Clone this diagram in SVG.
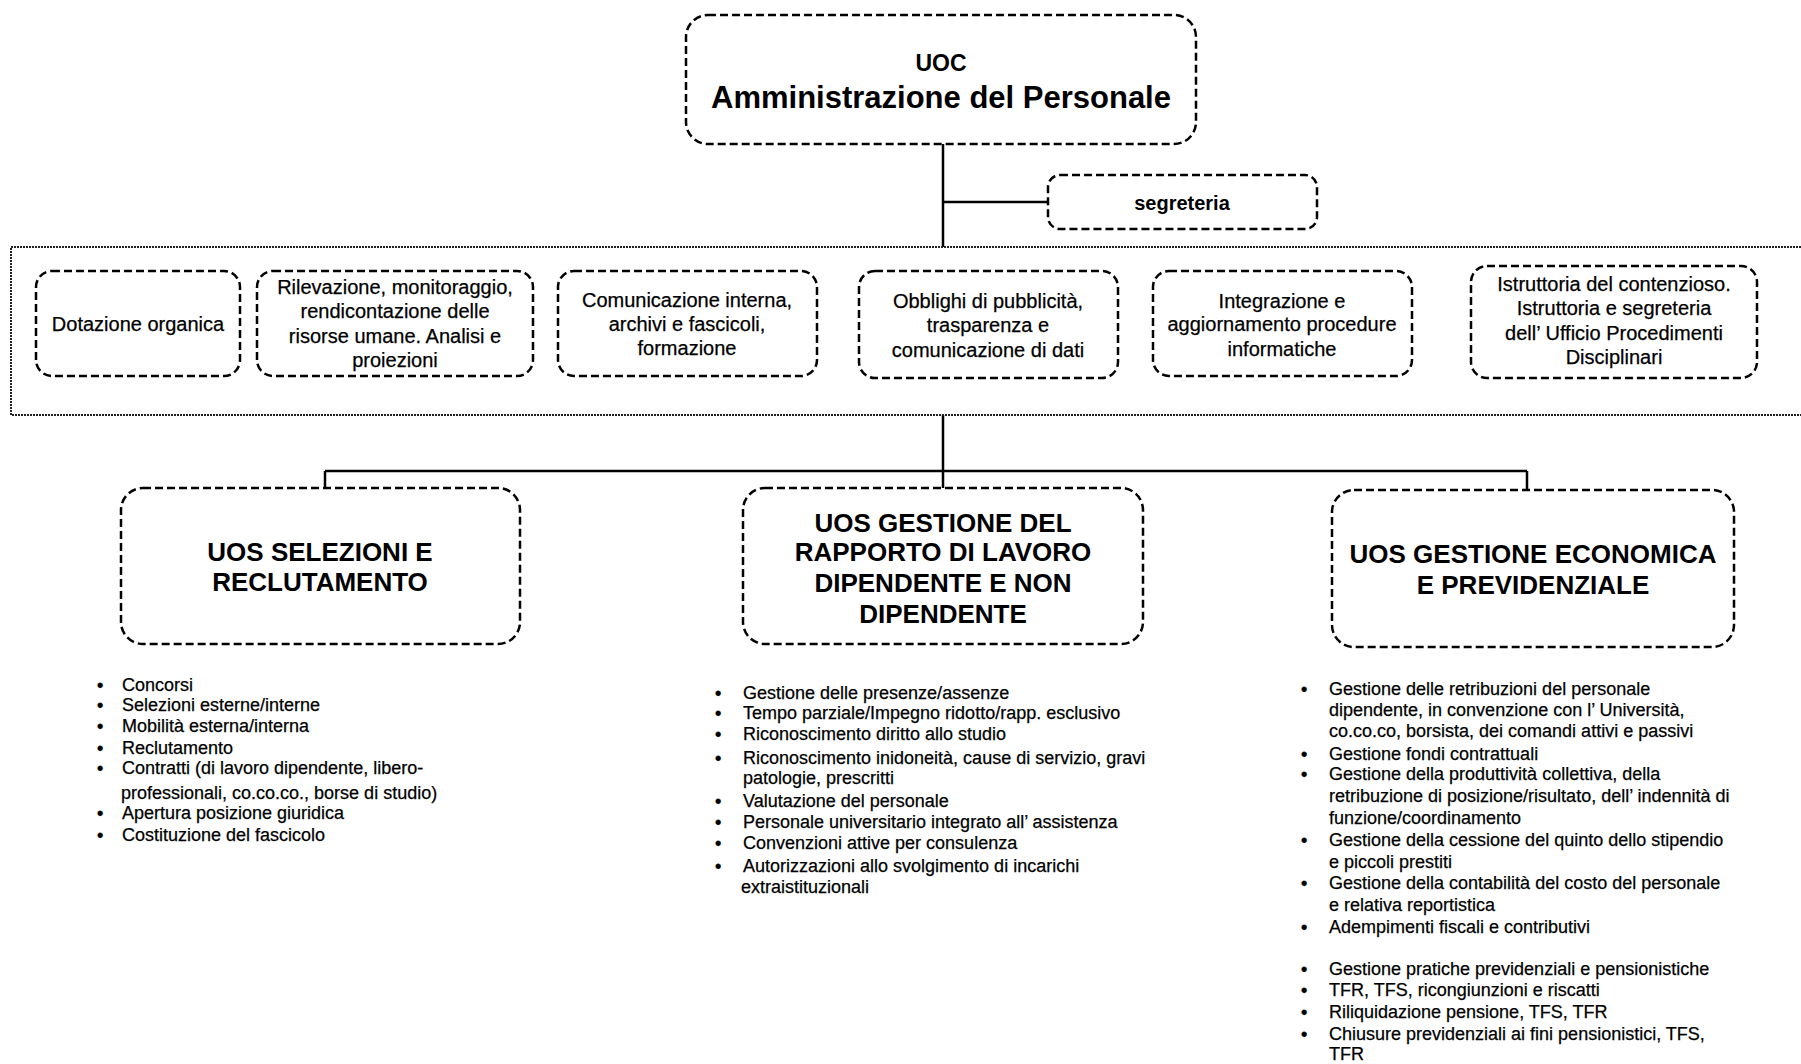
<svg xmlns="http://www.w3.org/2000/svg" width="1801" height="1064" viewBox="0 0 1801 1064">
<style>
.box{fill:#fff;stroke:#000;stroke-width:2.5;stroke-dasharray:8 4}
.band{fill:none;stroke:#222;stroke-width:2;stroke-dasharray:2 1}
.conn{fill:none;stroke:#000;stroke-width:2.5}
.t{font-family:"Liberation Sans",Arial,sans-serif;fill:#000}
.bt{font-size:20px;text-anchor:middle;stroke:#000;stroke-width:0.25}
.hd{font-size:26px;font-weight:bold;text-anchor:middle}
.li{font-size:18px;stroke:#000;stroke-width:0.25}
.bu{font-weight:bold}
</style>
<rect width="1801" height="1064" fill="#fff"/>
<g id="connectors">
<path class="conn" d="M943 144V247"/>
<path class="conn" d="M943 202H1048"/>
<path class="conn" d="M943 415V488"/>
<path class="conn" d="M325 471H1527"/>
<path class="conn" d="M325 471V488"/>
<path class="conn" d="M1527 471V490"/>
</g>
<rect class="band" x="11" y="247" width="1800" height="168"/>
<g id="uoc">
<rect class="box" x="686" y="15" width="510" height="129" rx="22"/>
<text class="t" x="941" y="71" font-size="23" font-weight="bold" text-anchor="middle">UOC</text>
<text class="t" x="941" y="108" font-size="31" font-weight="bold" text-anchor="middle">Amministrazione del Personale</text>
</g>
<g id="segreteria">
<rect class="box" x="1048" y="175" width="269" height="54" rx="12"/>
<text class="t" x="1182" y="210" font-size="20" font-weight="bold" text-anchor="middle">segreteria</text>
</g>
<g id="dotazione">
<rect class="box" x="36" y="271" width="204" height="105" rx="16"/>
<text class="t bt" x="138" y="331">Dotazione organica</text>
</g>
<g id="rilevazione">
<rect class="box" x="257" y="271" width="276" height="105" rx="16"/>
<text class="t bt" x="395" y="294">Rilevazione, monitoraggio,</text>
<text class="t bt" x="395" y="318">rendicontazione delle</text>
<text class="t bt" x="395" y="343">risorse umane. Analisi e</text>
<text class="t bt" x="395" y="367">proiezioni</text>
</g>
<g id="comunicazione">
<rect class="box" x="558" y="271" width="259" height="105" rx="16"/>
<text class="t bt" x="687" y="307">Comunicazione interna,</text>
<text class="t bt" x="687" y="331">archivi e fascicoli,</text>
<text class="t bt" x="687" y="355">formazione</text>
</g>
<g id="obblighi">
<rect class="box" x="859" y="271" width="259" height="107" rx="16"/>
<text class="t bt" x="988" y="308">Obblighi di pubblicità,</text>
<text class="t bt" x="988" y="332">trasparenza e</text>
<text class="t bt" x="988" y="357">comunicazione di dati</text>
</g>
<g id="integrazione">
<rect class="box" x="1153" y="271" width="259" height="105" rx="16"/>
<text class="t bt" x="1282" y="308">Integrazione e</text>
<text class="t bt" x="1282" y="331">aggiornamento procedure</text>
<text class="t bt" x="1282" y="356">informatiche</text>
</g>
<g id="istruttoria">
<rect class="box" x="1471" y="266" width="286" height="112" rx="16"/>
<text class="t bt" x="1614" y="291">Istruttoria del contenzioso.</text>
<text class="t bt" x="1614" y="315">Istruttoria e segreteria</text>
<text class="t bt" x="1614" y="340">dell’ Ufficio Procedimenti</text>
<text class="t bt" x="1614" y="364">Disciplinari</text>
</g>
<g id="uos-selezioni">
<rect class="box" x="121" y="488" width="399" height="156" rx="22"/>
<text class="t hd" x="320" y="561">UOS SELEZIONI E</text>
<text class="t hd" x="320" y="591">RECLUTAMENTO</text>
</g>
<g id="uos-rapporto">
<rect class="box" x="743" y="488" width="400" height="156" rx="22"/>
<text class="t hd" x="943" y="532">UOS GESTIONE DEL</text>
<text class="t hd" x="943" y="561">RAPPORTO DI LAVORO</text>
<text class="t hd" x="943" y="592">DIPENDENTE E NON</text>
<text class="t hd" x="943" y="623">DIPENDENTE</text>
</g>
<g id="uos-economica">
<rect class="box" x="1332" y="490" width="402" height="157" rx="22"/>
<text class="t hd" x="1533" y="563">UOS GESTIONE ECONOMICA</text>
<text class="t hd" x="1533" y="594">E PREVIDENZIALE</text>
</g>
<g id="list-selezioni" class="t li">
<text class="bu" x="97" y="691">•</text><text x="122" y="691">Concorsi</text>
<text class="bu" x="97" y="711">•</text><text x="122" y="711">Selezioni esterne/interne</text>
<text class="bu" x="97" y="732">•</text><text x="122" y="732">Mobilità esterna/interna</text>
<text class="bu" x="97" y="754">•</text><text x="122" y="754">Reclutamento</text>
<text class="bu" x="97" y="774">•</text><text x="122" y="774">Contratti (di lavoro dipendente, libero-</text>
<text x="121" y="799">professionali, co.co.co., borse di studio)</text>
<text class="bu" x="97" y="819">•</text><text x="122" y="819">Apertura posizione giuridica</text>
<text class="bu" x="97" y="841">•</text><text x="122" y="841">Costituzione del fascicolo</text>
</g>
<g id="list-rapporto" class="t li">
<text class="bu" x="715" y="699">•</text><text x="743" y="699">Gestione delle presenze/assenze</text>
<text class="bu" x="715" y="719">•</text><text x="743" y="719">Tempo parziale/Impegno ridotto/rapp. esclusivo</text>
<text class="bu" x="715" y="740">•</text><text x="743" y="740">Riconoscimento diritto allo studio</text>
<text class="bu" x="715" y="764">•</text><text x="743" y="764">Riconoscimento inidoneità, cause di servizio, gravi</text>
<text x="743" y="784">patologie, prescritti</text>
<text class="bu" x="715" y="807">•</text><text x="743" y="807">Valutazione del personale</text>
<text class="bu" x="715" y="828">•</text><text x="743" y="828">Personale universitario integrato all’ assistenza</text>
<text class="bu" x="715" y="849">•</text><text x="743" y="849">Convenzioni attive per consulenza</text>
<text class="bu" x="715" y="872">•</text><text x="743" y="872">Autorizzazioni allo svolgimento di incarichi</text>
<text x="741" y="893">extraistituzionali</text>
</g>
<g id="list-economica" class="t li">
<text class="bu" x="1301" y="695">•</text><text x="1329" y="695">Gestione delle retribuzioni del personale</text>
<text x="1329" y="716">dipendente, in convenzione con l’ Università,</text>
<text x="1329" y="737">co.co.co, borsista, dei comandi attivi e passivi</text>
<text class="bu" x="1301" y="760">•</text><text x="1329" y="760">Gestione fondi contrattuali</text>
<text class="bu" x="1301" y="780">•</text><text x="1329" y="780">Gestione della produttività collettiva, della</text>
<text x="1329" y="802">retribuzione di posizione/risultato, dell’ indennità di</text>
<text x="1329" y="824">funzione/coordinamento</text>
<text class="bu" x="1301" y="846">•</text><text x="1329" y="846">Gestione della cessione del quinto dello stipendio</text>
<text x="1329" y="868">e piccoli prestiti</text>
<text class="bu" x="1301" y="889">•</text><text x="1329" y="889">Gestione della contabilità del costo del personale</text>
<text x="1329" y="911">e relativa reportistica</text>
<text class="bu" x="1301" y="933">•</text><text x="1329" y="933">Adempimenti fiscali e contributivi</text>
<text class="bu" x="1301" y="975">•</text><text x="1329" y="975">Gestione pratiche previdenziali e pensionistiche</text>
<text class="bu" x="1301" y="996">•</text><text x="1329" y="996">TFR, TFS, ricongiunzioni e riscatti</text>
<text class="bu" x="1301" y="1018">•</text><text x="1329" y="1018">Riliquidazione pensione, TFS, TFR</text>
<text class="bu" x="1301" y="1040">•</text><text x="1329" y="1040">Chiusure previdenziali ai fini pensionistici, TFS,</text>
<text x="1329" y="1060">TFR</text>
</g>
</svg>
